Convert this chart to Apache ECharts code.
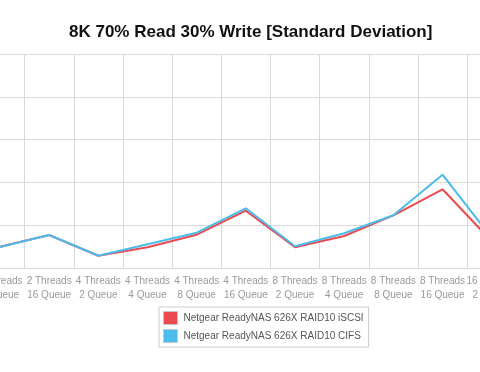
<!DOCTYPE html>
<html>
<head>
<meta charset="utf-8">
<script src="https://cdn.jsdelivr.net/npm/echarts@6/dist/echarts.min.js"></script>
<style>
html,body{margin:0;padding:0;background:#fff;overflow:hidden;width:480px;height:372px;position:relative;}
#chart{position:absolute;left:-60px;top:0;width:600px;height:372px;}
</style>
</head>
<body>
<div id="chart"></div>
<script>
const categories = [
  "2 Threads\n8 Queue", "2 Threads\n16 Queue", "4 Threads\n2 Queue", "4 Threads\n4 Queue",
  "4 Threads\n8 Queue", "4 Threads\n16 Queue", "8 Threads\n2 Queue", "8 Threads\n4 Queue",
  "8 Threads\n8 Queue", "8 Threads\n16 Queue", "16 Threads\n2 Queue"
];
const iscsiValues = [4.98, 7.71, 2.87, 4.85, 7.78, 13.39, 4.84, 7.48, 12.31, 18.39, 6.26];
const cifsValues  = [4.91, 7.71, 2.87, 5.56, 8.25, 13.95, 5.07, 8.11, 12.31, 21.8, 7.06];
const seriesNames = ["Netgear ReadyNAS 626X RAID10 iSCSI", "Netgear ReadyNAS 626X RAID10 CIFS"];
const yTicks = [0, 10, 20, 30, 40, 50];

const chart = echarts.init(document.getElementById('chart'), null, {renderer: 'canvas'});
const offset = 60;
const band = 49.17;
const gridLeft = offset - band / 2;
const gridWidth = band * categories.length;
chart.setOption({
  animation: false,
  backgroundColor: '#fff',
  title: {
    text: '8K 70% Read 30% Write [Standard Deviation]',
    left: 64 + offset, top: 19,
    textStyle: {fontFamily: 'Liberation Sans', fontWeight: 'bold', fontSize: 17, color: '#111'}
  },
  legend: {
    orient: 'vertical', left: 159 + offset, top: 307,
    padding: [4, 5, 4, 4], itemGap: 4,
    borderColor: '#ccc', borderWidth: 1,
    itemWidth: 14, itemHeight: 13,
    icon: 'rect',
    itemStyle: {borderColor: '#c8c8c8', borderWidth: 1},
    textStyle: {fontFamily: 'Liberation Sans', fontSize: 10, color: '#555', padding: [0, 0, 0, 1]},
    data: seriesNames
  },
  grid: {left: gridLeft, width: gridWidth, top: 54, bottom: 104, containLabel: false},
  xAxis: {
    type: 'category', data: categories, boundaryGap: true,
    axisLine: {lineStyle: {color: '#d9d9d9', width: 1}},
    axisTick: {show: false},
    splitLine: {show: true, lineStyle: {color: '#d9d9d9', width: 1}},
    axisLabel: {interval: 0, color: '#999', fontFamily: 'Liberation Sans', fontSize: 10, lineHeight: 14, margin: 6}
  },
  yAxis: {
    type: 'value', min: yTicks[0], max: yTicks[yTicks.length - 1], interval: 10,
    axisLine: {show: false}, axisTick: {show: false}, axisLabel: {show: false},
    splitLine: {lineStyle: {color: '#d9d9d9', width: 1}}
  },
  series: [
    {name: seriesNames[0], type: 'line', data: iscsiValues, symbol: 'none',
     lineStyle: {color: '#ec4a4e', width: 2}, itemStyle: {color: '#ec4a4e'}},
    {name: seriesNames[1], type: 'line', data: cifsValues, symbol: 'none',
     lineStyle: {color: '#4bbbeb', width: 2}, itemStyle: {color: '#4bbbeb'}}
  ]
});
</script>
</body>
</html>
